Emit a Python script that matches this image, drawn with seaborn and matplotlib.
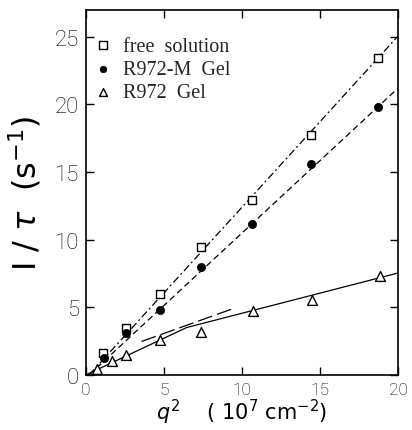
import numpy as np
import pandas as pd
import matplotlib
matplotlib.use("Agg")
import matplotlib.pyplot as plt
import seaborn as sns

sns.set_style("ticks")

# measured points, q^2 in 1e7 cm^-2, 1/tau in s^-1
free_q2 = [1.1, 2.56, 4.72, 7.39, 10.67, 14.43, 18.7]
free_rate = [1.58, 3.5, 5.98, 9.44, 12.94, 17.76, 23.47]

m_gel_q2 = [1.13, 2.56, 4.72, 7.39, 10.67, 14.43, 18.7]
m_gel_rate = [1.24, 3.06, 4.79, 7.95, 11.14, 15.56, 19.79]

gel_q2 = [0.73, 1.66, 2.56, 4.72, 7.39, 10.7, 14.5, 18.85]
gel_rate = [0.42, 0.99, 1.46, 2.54, 3.19, 4.74, 5.56, 7.29]

# fitted lines (drawn through these points)
free_fit_q2 = [0.2, 20.0]
free_fit_rate = [0.0, 25.05]
m_fit_q2 = [0.2, 20.0]
m_fit_rate = [0.0, 21.2]
gel_fit_q2 = [0.0, 6.45, 20.0]
gel_fit_rate = [0.0, 3.5, 7.53]
gel_short_q2 = [3.56, 9.43]
gel_short_rate = [2.47, 4.9]

fig = plt.figure(figsize=(4.12, 4.31), dpi=100)
ax = fig.add_axes([0.209, 0.128, 0.757, 0.847])

lw = 0.9
sns.lineplot(x=free_fit_q2, y=free_fit_rate, ax=ax, color="black", lw=lw,
             linestyle=(0, (6, 2.5, 1.5, 2.5)))
sns.lineplot(x=m_fit_q2, y=m_fit_rate, ax=ax, color="black", lw=lw,
             linestyle=(0, (5, 3)))
sns.lineplot(x=gel_fit_q2, y=gel_fit_rate, ax=ax, color="black", lw=lw,
             sort=False)
sns.lineplot(x=gel_short_q2, y=gel_short_rate, ax=ax, color="black", lw=lw,
             linestyle=(0, (12, 4)))

sns.scatterplot(x=free_q2, y=free_rate, ax=ax, marker="s", s=40,
                facecolor="white", edgecolor="black", linewidth=1.0,
                label="free  solution", zorder=5)
sns.scatterplot(x=m_gel_q2, y=m_gel_rate, ax=ax, marker="o", s=35,
                color="black", edgecolor="black", linewidth=0.5,
                label="R972-M  Gel", zorder=5)
sns.scatterplot(x=gel_q2, y=gel_rate, ax=ax, marker="^", s=50,
                facecolor="white", edgecolor="black", linewidth=1.0,
                label="R972  Gel", zorder=5)

ax.set_xlim(0, 20)
ax.set_ylim(0, 27)
ax.set_xticks([0, 5, 10, 15, 20])
ax.set_yticks([0, 5, 10, 15, 20, 25])
ax.tick_params(direction="in", top=True, right=True, length=6, width=1,
               colors="black")
ax.tick_params(axis="x", labelsize=12.5, pad=5)
ax.tick_params(axis="y", labelsize=16, pad=5)
for lab in ax.get_xticklabels() + ax.get_yticklabels():
    lab.set_fontfamily(["Roboto", "DejaVu Sans"])
    lab.set_fontweight("light")
for sp in ax.spines.values():
    sp.set_linewidth(1.2)
    sp.set_color("black")

ax.set_xlabel(r"$q^2$    ( 10$^7$ cm$^{-2}$)", fontsize=15, labelpad=0,
              color="black")
ax.set_ylabel(r"I / $\tau$  (s$^{-1}$)", fontsize=23, labelpad=8,
              color="black")

leg = ax.legend(loc="upper left", frameon=False, bbox_to_anchor=(-0.03, 0.965),
                prop={"family": "Liberation Serif", "size": 14.5},
                handletextpad=0.4, labelspacing=0.2, handlelength=1.2,
                markerscale=0.8, borderaxespad=0.3)

fig.savefig("out.png", dpi=100)
